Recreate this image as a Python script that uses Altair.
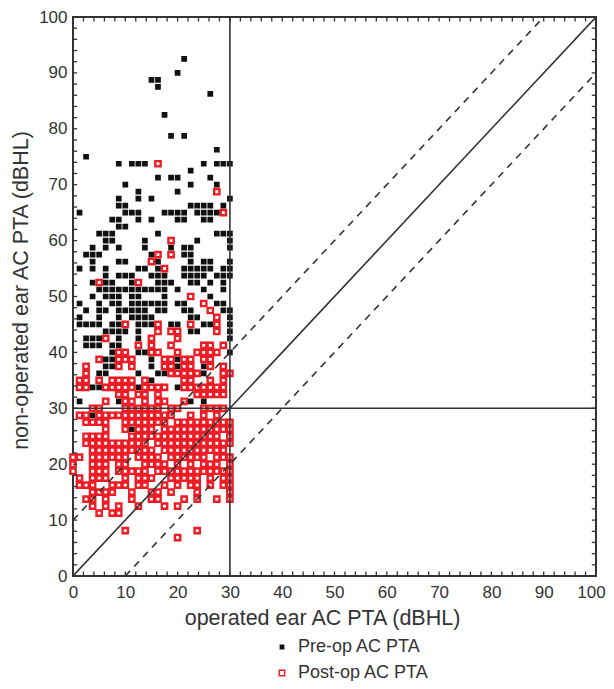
import altair as alt
import pandas as pd

STEP = 1.25  # dB step of the PTA grid
FONT = "Liberation Sans"
INK = "#333333"

pre_rows = {
    74: [17], 72: [16], 71: [12, 13], 70: [13], 69: [21], 66: [14], 63: [15, 17], 61: [22], 60: [2],
    59: [7, 9, 10, 11, 20, 22, 23, 24], 58: [18], 57: [13, 15, 16, 21], 56: [8, 18, 22], 55: [10, 16],
    54: [7, 10, 12, 24], 53: [7, 8, 18, 19, 20, 21, 23], 52: [1, 8, 9, 10, 14, 15, 16, 17, 19, 20, 21, 22],
    51: [6, 7, 10, 12, 16, 17, 20, 21], 50: [7, 8], 49: [4, 5, 6, 13, 22, 23, 24], 48: [5, 6, 11, 19, 24],
    47: [3, 5, 7, 11, 15, 17, 18, 24], 46: [2, 3, 4, 12, 17, 18], 45: [3, 7, 8, 13, 18, 20, 21, 24],
    44: [1, 3, 5, 10, 11, 13, 17, 18, 19, 20, 21, 23, 24], 43: [5, 7, 8, 9, 12, 13, 14, 17, 18, 19, 20, 22, 23, 24],
    42: [3, 5, 6, 9, 13, 14, 15, 18, 19, 21, 23], 41: [4, 5, 6, 7, 8, 9, 10, 11, 12, 13, 14, 16, 20, 23],
    40: [3, 5, 6, 7, 9, 10, 14, 21], 39: [1, 4, 6, 7, 9, 10, 11, 12, 13, 14, 16, 17, 22, 23],
    38: [2, 4, 5, 7, 8, 9, 10, 11, 13, 14, 17, 18, 23, 24], 37: [1, 4, 7, 9, 10, 11, 12, 18, 19, 24],
    36: [1, 2, 3, 4, 6, 7, 10, 11, 12, 15, 16, 20, 21, 24], 35: [5, 6, 7, 8, 10, 18, 19, 24],
    34: [2, 3, 4, 7, 10, 24], 33: [2, 3, 4, 6, 7, 10, 12, 15], 32: [6, 10, 11, 16, 24], 31: [5, 6, 12, 16],
    30: [5, 6, 12, 16, 20], 29: [4, 5, 10, 13, 14, 16, 20], 28: [12, 23], 27: [3, 4, 5, 10, 16],
    25: [1, 7, 18, 20], 23: [3, 15], 22: [13], 21: [9, 17],
}

post_rows = {
    59: [13], 55: [22], 52: [23], 48: [15], 46: [13, 15], 45: [12], 44: [14], 42: [4, 10], 40: [18], 39: [20],
    38: [21], 37: [22], 36: [8, 13, 18, 22], 35: [13, 15, 16, 22], 34: [5, 12, 16],
    33: [10, 12, 15, 20, 21, 23], 32: [7, 8, 12, 13, 16, 19, 20, 21, 22], 31: [4, 7, 8, 9, 14, 15, 17, 18, 20, 21],
    30: [2, 7, 9, 14, 15, 17, 18, 21, 23], 29: [2, 15, 16, 17, 18, 19, 23, 24],
    28: [1, 2, 4, 6, 7, 8, 9, 11, 17, 18, 21, 23],
    27: [1, 2, 5, 6, 7, 8, 9, 11, 12, 13, 14, 17, 18, 19, 20, 21, 22, 23],
    26: [7, 8, 10, 11, 13, 19, 20, 21, 22, 23], 25: [5, 8, 9, 11, 13, 14, 17],
    24: [3, 4, 8, 9, 10, 11, 12, 13, 15, 16, 20, 21, 22, 23],
    23: [1, 2, 4, 5, 6, 7, 8, 9, 10, 11, 12, 13, 14, 15, 18, 20, 22],
    22: [2, 3, 4, 5, 8, 9, 10, 11, 12, 13, 14, 16, 17, 18, 19, 20, 21, 22, 23, 24],
    21: [5, 8, 10, 11, 12, 14, 15, 16, 17, 18, 19, 20, 21, 22, 23, 24],
    20: [2, 3, 4, 5, 9, 10, 11, 12, 13, 14, 15, 16, 17, 18, 19, 20, 21, 22, 24],
    19: [2, 3, 4, 5, 6, 7, 8, 9, 10, 11, 13, 14, 15, 16, 17, 18, 19, 20, 21, 22, 23, 24],
    18: [3, 4, 5, 6, 7, 8, 9, 10, 11, 12, 14, 15, 16, 17, 18, 19, 20, 21, 22, 23],
    17: [0, 1, 3, 4, 5, 6, 7, 8, 10, 11, 12, 13, 15, 16, 17, 18, 19, 20, 22, 23, 24],
    16: [0, 3, 4, 5, 7, 8, 11, 12, 13, 14, 16, 18, 20, 21, 22, 24],
    15: [0, 3, 4, 5, 7, 8, 9, 10, 11, 13, 14, 15, 16, 17, 18, 19, 20, 21, 22, 23, 24],
    14: [1, 3, 4, 5, 8, 10, 11, 12, 15, 16, 17, 18, 19, 21, 23, 24],
    13: [1, 2, 3, 6, 7, 8, 10, 11, 14, 16, 18, 19, 21, 23, 24],
    12: [3, 4, 5, 6, 9, 12, 13, 15, 19, 24], 11: [2, 3, 5, 9, 12, 13, 17, 19, 22, 24],
    10: [3, 5, 7, 10, 14, 16], 9: [4, 6, 7], 6.5: [8, 19], 5.5: [16],
}

series_names = ["Pre-op AC PTA", "Post-op AC PTA"]
tick_values = list(range(0, 101, 2))
label_values = list(range(0, 101, 10))
tick_len = 0.8

solid_lines = {"a": ([30, 30], [0, 100]), "b": ([0, 100], [30, 30]), "c": ([0, 100], [0, 100])}
dashed_lines = {"d": ([0, 90], [10, 100]), "e": ([10, 100], [0, 90])}

rows = []
for name, table in zip(series_names, [pre_rows, post_rows]):
    for j, cols in table.items():
        for i in cols:
            rows.append({"x": i * STEP, "y": j * STEP, "series": name})
points = pd.DataFrame(rows)

x_scale = alt.Scale(domain=[0, 100], nice=False)
y_scale = alt.Scale(domain=[0, 100], nice=False)


def line_df(lines):
    return pd.DataFrame([
        {"id": k, "x": px, "y": py} for k, (xs, ys) in lines.items() for px, py in zip(xs, ys)
    ])


legend = alt.Legend(
    title=None, orient="none", legendX=200, legendY=621, symbolType="square",
    labelFont=FONT, labelFontSize=18, labelColor=INK, rowPadding=8, labelOffset=7,
)

base_x = alt.X("x:Q", scale=x_scale, title="operated ear AC PTA (dBHL)", axis=alt.Axis(
    values=label_values, tickSize=0, grid=False, domain=False, labelFont=FONT, labelFontSize=17,
    labelColor=INK, titleFont=FONT, titleFontSize=21.5, titleFontWeight="normal", titleColor=INK,
    labelPadding=8, titlePadding=7, titleX=249, labelFlush=False, labelOverlap=False,
    labelOffset=alt.expr("datum.value == 100 ? -5 : 0"),
))
base_y = alt.Y("y:Q", scale=y_scale, title="non-operated ear AC PTA (dBHL)", axis=alt.Axis(
    values=label_values, tickSize=0, grid=False, domain=False, labelFont=FONT, labelFontSize=17,
    labelColor=INK, titleFont=FONT, titleFontSize=21.5, titleFontWeight="normal", titleColor=INK,
    labelPadding=6, titlePadding=6, titleY=273, labelOverlap=False,
))

pts = alt.Chart(points).mark_point(shape="square", filled=False, strokeWidth=2.4, opacity=1).encode(
    x=base_x, y=base_y,
    fill=alt.Fill("series:N", scale=alt.Scale(domain=series_names, range=["#111111", "#ffffff"]), legend=legend),
    stroke=alt.Stroke("series:N", scale=alt.Scale(domain=series_names, range=["#111111", "#ee1c25"]), legend=legend),
    size=alt.Size("series:N", scale=alt.Scale(domain=series_names, range=[11, 28]), legend=legend),
)

solid = alt.Chart(line_df(solid_lines)).mark_line(color=INK, strokeWidth=1.6, clip=True).encode(
    x=alt.X("x:Q", scale=x_scale), y=alt.Y("y:Q", scale=y_scale), detail="id:N")
dashed = alt.Chart(line_df(dashed_lines)).mark_line(color=INK, strokeWidth=1.6, strokeDash=[7, 6], clip=True).encode(
    x=alt.X("x:Q", scale=x_scale), y=alt.Y("y:Q", scale=y_scale), detail="id:N")


def tick_layer(horizontal, pos, end):
    df = pd.DataFrame({"t": tick_values, "a": [pos] * len(tick_values), "b": [end] * len(tick_values)})
    if horizontal:
        enc = dict(x=alt.X("t:Q", scale=x_scale), y=alt.Y("a:Q", scale=y_scale), y2="b:Q")
    else:
        enc = dict(y=alt.Y("t:Q", scale=y_scale), x=alt.X("a:Q", scale=x_scale), x2="b:Q")
    return alt.Chart(df).mark_rule(color=INK, strokeWidth=1.3).encode(**enc)


ticks = [
    tick_layer(True, 0, tick_len), tick_layer(True, 100, 100 - tick_len),
    tick_layer(False, 0, tick_len), tick_layer(False, 100, 100 - tick_len),
]

chart = alt.layer(pts, solid, dashed, *ticks).properties(
    width=523, height=559,
    padding={"left": 65, "top": 9, "right": 10, "bottom": 105},
    autosize=alt.AutoSizeParams(type="none"),
).configure_view(stroke=INK, strokeWidth=2)

chart.save("out.html", embed_options={"renderer": "svg", "actions": False})
